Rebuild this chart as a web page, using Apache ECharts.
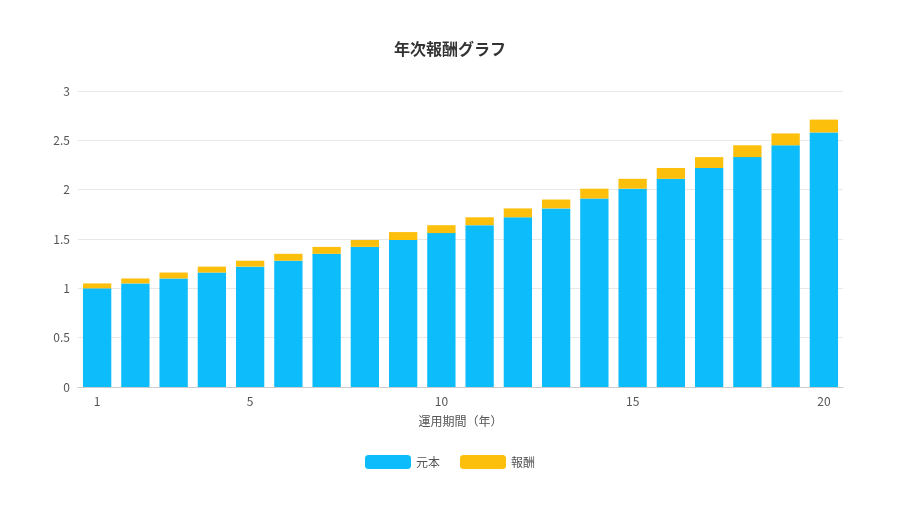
<!DOCTYPE html>
<html>
<head>
<meta charset="utf-8">
<script src="https://cdn.jsdelivr.net/npm/echarts@6/dist/echarts.min.js"></script>
<style>html,body{margin:0;background:#fff}#main{width:900px;height:510px}</style>
</head>
<body>
<div id="main"></div>
<script>
// 運用期間（年）
const years = ['1','2','3','4','5','6','7','8','9','10','11','12','13','14','15','16','17','18','19','20']
// 元本
const principal = [1, 1.05, 1.10, 1.16, 1.22, 1.28, 1.35, 1.42, 1.49, 1.56, 1.64, 1.72, 1.81, 1.91, 2.01, 2.11, 2.22, 2.33, 2.45, 2.58]
// 報酬
const reward = [0.05, 0.05, 0.06, 0.06, 0.06, 0.07, 0.07, 0.07, 0.08, 0.08, 0.08, 0.09, 0.09, 0.10, 0.10, 0.11, 0.11, 0.12, 0.12, 0.13]
const shownLabels = ['1', '5', '10', '15', '20']

const myChart = echarts.init(document.querySelector('#main'))
const option = {
  textStyle: { fontFamily: '"Noto Sans CJK JP", sans-serif' },
  title: {
    text: '年次報酬グラフ',
    left: 'center',
    top: 36,
    textStyle: { fontSize: 16, fontWeight: 'bold', color: '#333' }
  },
  legend: {
    bottom: 36,
    itemWidth: 46,
    itemHeight: 14,
    itemGap: 20,
    textStyle: { color: '#555', fontSize: 12 }
  },
  grid: { left: 78, right: 57, top: 91, bottom: 123 },
  xAxis: {
    type: 'category',
    data: years,
    name: '運用期間（年）',
    nameLocation: 'middle',
    nameGap: 28,
    nameTextStyle: { color: '#555', fontSize: 12 },
    axisTick: { show: false },
    axisLine: { lineStyle: { color: '#ccc' } },
    axisLabel: {
      color: '#555',
      interval: (i, v) => shownLabels.includes(v)
    }
  },
  yAxis: {
    type: 'value',
    min: 0,
    max: 3,
    interval: 0.5,
    axisLabel: { color: '#555' },
    splitLine: { lineStyle: { color: '#e8e8e8' } }
  },
  series: [
    { name: '元本', type: 'bar', stack: 'a', barWidth: '74%', data: principal, itemStyle: { color: '#0dbcfb' } },
    { name: '報酬', type: 'bar', stack: 'a', data: reward, itemStyle: { color: '#fcbf0b' } }
  ]
}
myChart.setOption(option)
</script>
</body>
</html>
